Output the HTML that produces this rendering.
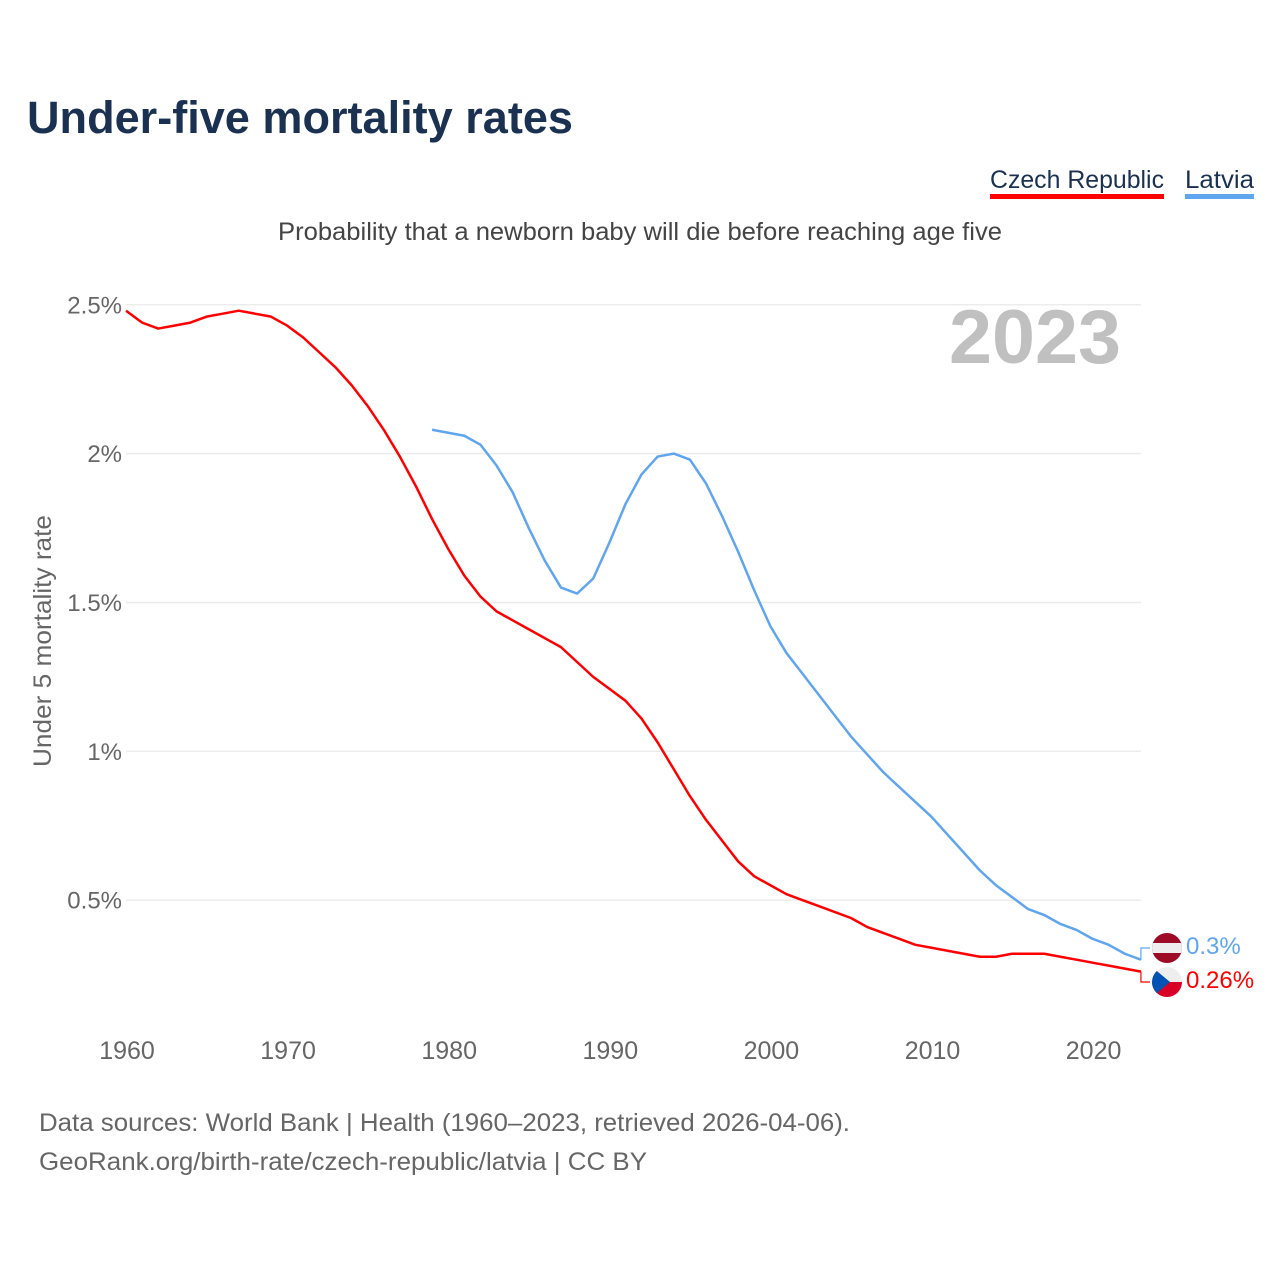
<!DOCTYPE html>
<html lang="en">
<head>
<meta charset="utf-8">
<title>Under-five mortality rates</title>
<style>
html,body{margin:0;padding:0;background:#fff;}
svg{display:block;font-family:"Liberation Sans",Arial,sans-serif;}
</style>
</head>
<body>
<svg id="chart" xmlns="http://www.w3.org/2000/svg" width="1280" height="1280" viewBox="0 0 1280 1280">
  <rect x="0" y="0" width="1280" height="1280" fill="#ffffff"/>
  <text x="27" y="133" font-size="45" font-weight="bold" fill="#1a3152" textLength="546" lengthAdjust="spacingAndGlyphs">Under-five mortality rates</text>

  <g>
    <g>
      <text x="990" y="188" font-size="25" fill="#1a3152" textLength="174" lengthAdjust="spacingAndGlyphs">Czech Republic</text>
      <rect x="990" y="194" width="174" height="5" fill="#ff0000"/>
    </g>
    <g>
      <text x="1185" y="188" font-size="25" fill="#1a3152" textLength="69" lengthAdjust="spacingAndGlyphs">Latvia</text>
      <rect x="1185" y="194" width="69" height="5" fill="#60a5ef"/>
    </g>
  </g>

  <text x="278" y="240" font-size="25" fill="#444444" textLength="724" lengthAdjust="spacingAndGlyphs">Probability that a newborn baby will die before reaching age five</text>

  <g id="grid"></g>
  <g id="y-ticks"></g>
  <g id="x-ticks"></g>

  <text transform="translate(51,767) rotate(-90)" x="0" y="0" font-size="25" fill="#666666" textLength="252" lengthAdjust="spacingAndGlyphs">Under 5 mortality rate</text>

  <text x="949" y="363" font-size="76" font-weight="bold" fill="#c0c0c0" textLength="172" lengthAdjust="spacingAndGlyphs">2023</text>

  <g id="series"></g>

  <defs>
    <clipPath id="clip-lv"><circle cx="1167" cy="948" r="15"/></clipPath>
    <clipPath id="clip-cz"><circle cx="1167" cy="982" r="15"/></clipPath>
  </defs>
  <g clip-path="url(#clip-lv)">
    <rect x="1152" y="933" width="30" height="30" fill="#9e0b26"/>
    <rect x="1152" y="943" width="30" height="10" fill="#eeeeee"/>
  </g>
  <g clip-path="url(#clip-cz)">
    <rect x="1152" y="967" width="30" height="15" fill="#eeeeee"/>
    <rect x="1152" y="982" width="30" height="15" fill="#d80027"/>
    <polygon points="1152,967 1170,982 1152,997" fill="#0052b4"/>
  </g>
  <text id="value-lv" x="1186" y="954" font-size="24" fill="#60a5ef"></text>
  <text id="value-cz" x="1186" y="988" font-size="24" fill="#ff0000"></text>

  <text x="39" y="1131" font-size="25" fill="#666666" textLength="811" lengthAdjust="spacingAndGlyphs">Data sources: World Bank | Health (1960–2023, retrieved 2026-04-06).</text>
  <text x="39" y="1170" font-size="25" fill="#666666" textLength="608" lengthAdjust="spacingAndGlyphs">GeoRank.org/birth-rate/czech-republic/latvia | CC BY</text>
</svg>

<script>
const czechStartYear = 1960;
const czechValues = [2.48,2.44,2.42,2.43,2.44,2.46,2.47,2.48,2.47,2.46,2.43,2.39,2.34,2.29,2.23,2.16,2.08,1.99,1.89,1.78,1.68,1.59,1.52,1.47,1.44,1.41,1.38,1.35,1.30,1.25,1.21,1.17,1.11,1.03,0.94,0.85,0.77,0.70,0.63,0.58,0.55,0.52,0.50,0.48,0.46,0.44,0.41,0.39,0.37,0.35,0.34,0.33,0.32,0.31,0.31,0.32,0.32,0.32,0.31,0.30,0.29,0.28,0.27,0.26];
const latviaStartYear = 1979;
const latviaValues = [2.08,2.07,2.06,2.03,1.96,1.87,1.75,1.64,1.55,1.53,1.58,1.70,1.83,1.93,1.99,2.00,1.98,1.90,1.79,1.67,1.54,1.42,1.33,1.26,1.19,1.12,1.05,0.99,0.93,0.88,0.83,0.78,0.72,0.66,0.60,0.55,0.51,0.47,0.45,0.42,0.40,0.37,0.35,0.32,0.30];
const yTickValues = [0.5,1,1.5,2,2.5];
const yTickLabels = ["0.5%","1%","1.5%","2%","2.5%"];
const xTickYears = [1960,1970,1980,1990,2000,2010,2020];
const latviaValueLabel = "0.3%";
const czechValueLabel = "0.26%";

const NS = "http://www.w3.org/2000/svg";
const xScale = year => 126 + (year - 1960) * 16.11;
const yScale = value => 1049 - value * 297.7;
const lastX = xScale(2023);

function svgEl(tag, parent, attrs) {
  const el = document.createElementNS(NS, tag);
  for (const key in attrs) el.setAttribute(key, attrs[key]);
  parent.appendChild(el);
  return el;
}

const gridG = document.getElementById("grid");
const yTicksG = document.getElementById("y-ticks");
yTickValues.forEach((value, i) => {
  const line = svgEl("line", gridG, {x1: 126, x2: lastX, y1: yScale(value), y2: yScale(value), stroke: "#ececec", "stroke-width": 1.5});
  
  
  const label = svgEl("text", yTicksG, {x: 122, y: yScale(value) + 8.5, "text-anchor": "end", "font-size": 24, fill: "#666666"});
  
  
  label.textContent = yTickLabels[i];
});

const xTicksG = document.getElementById("x-ticks");
xTickYears.forEach(year => {
  const label = svgEl("text", xTicksG, {x: xScale(year) + 1, y: 1059, "text-anchor": "middle", "font-size": 25, fill: "#666666"});
  
  
  label.textContent = String(year);
});

function linePath(startYear, values) {
  return values.map((v, i) => (i ? "L" : "M") + xScale(startYear + i).toFixed(2) + " " + yScale(v).toFixed(2)).join(" ");
}

const seriesG = document.getElementById("series");
const czechLine = svgEl("path", seriesG, {d: linePath(czechStartYear, czechValues), fill: "none", stroke: "#ff0000", "stroke-width": 2.5, "stroke-linejoin": "round"});


const latviaLine = svgEl("path", seriesG, {d: linePath(latviaStartYear, latviaValues), fill: "none", stroke: "#60a5ef", "stroke-width": 2.5, "stroke-linejoin": "round"});



const czechConnector = svgEl("path", seriesG, {d: "M" + lastX + " " + yScale(czechValues[czechValues.length - 1]) + " V982 H1150", fill: "none", stroke: "#ff0000", "stroke-width": 1.2});


const latviaConnector = svgEl("path", seriesG, {d: "M" + lastX + " " + yScale(latviaValues[latviaValues.length - 1]) + " V948 H1150", fill: "none", stroke: "#60a5ef", "stroke-width": 1.2});



document.getElementById("value-lv").textContent = latviaValueLabel;
document.getElementById("value-cz").textContent = czechValueLabel;
</script>
</body>
</html>
